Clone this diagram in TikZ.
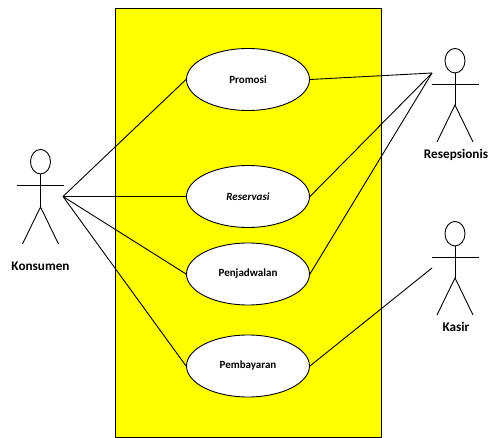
\documentclass[tikz,border=0pt]{standalone}
\usepackage{fontspec}
\setmainfont{Carlito}
\definecolor{sysyellow}{RGB}{255,255,0}
\usetikzlibrary{shapes.geometric}
\tikzset{
  usecase/.style={ellipse,draw=black,fill=white,line width=0.9pt,minimum width=123pt,minimum height=62pt,inner sep=0pt,font=\fontsize{11}{13}\selectfont\bfseries},
  actorlabel/.style={font=\fontsize{13.2}{15}\selectfont\bfseries,inner sep=0pt},
  link/.style={line width=0.9pt,black},
  actorline/.style={line width=0.9pt,black},
  head/.style={ellipse,draw=black,line width=0.9pt,minimum width=20pt,minimum height=24.5pt,inner sep=0pt}
}
\newcommand{\stickman}[5]{% name, x, head top y, arm y, body end y
  \node[head,anchor=north] (#1head) at (#2,#3) {};
  \coordinate (#1hip) at (#2,#5);
  \coordinate (#1armL) at (#2-23.5,#4);
  \coordinate (#1armR) at (#2+23.5,#4);
  \coordinate (#1legL) at (#2-18,#5+37);
  \coordinate (#1legR) at (#2+18,#5+37);
  \draw[actorline] (#1head.south) -- (#1hip);
  \draw[actorline] (#1armL) -- (#1armR);
  \draw[actorline] (#1legL) -- (#1hip) -- (#1legR);
}
\begin{document}
\begin{tikzpicture}[x=1pt,y=-1pt]
\useasboundingbox (0,0) rectangle (491,438);
\node[draw=black,fill=sysyellow,line width=0.9pt,minimum width=266pt,minimum height=429.5pt,inner sep=0pt,anchor=north west] (system) at (115,8) {};
\node[usecase] (promosi) at (248,79.5) {Promosi};
\node[usecase] (reservasi) at (248,196.5) {\itshape Reservasi};
\node[usecase] (penjadwalan) at (248,274) {Penjadwalan};
\node[usecase] (pembayaran) at (248,366) {Pembayaran};
\stickman{kons}{40.5}{149}{185}{207}
\stickman{resp}{455}{48}{84}{105}
\stickman{kasr}{455}{221}{257}{278}
\node[actorlabel] (konsumenlabel) at (40.5,266) {Konsumen};
\node[actorlabel] (resepsionislabel) at (456,155) {Resepsionis};
\node[actorlabel] (kasirlabel) at (456,327) {Kasir};
\coordinate (konsport) at (63,196.5);
\coordinate (respport) at (432,73);
\coordinate (kasrport) at (432,268);
\draw[link] (konsport) -- (promosi.west);
\draw[link] (konsport) -- (reservasi.west);
\draw[link] (konsport) -- (penjadwalan.west);
\draw[link] (konsport) -- (pembayaran.west);
\draw[link] (respport) -- (promosi.east);
\draw[link] (respport) -- (reservasi.east);
\draw[link] (respport) -- (penjadwalan.east);
\draw[link] (kasrport) -- (pembayaran.east);
\end{tikzpicture}
\end{document}
